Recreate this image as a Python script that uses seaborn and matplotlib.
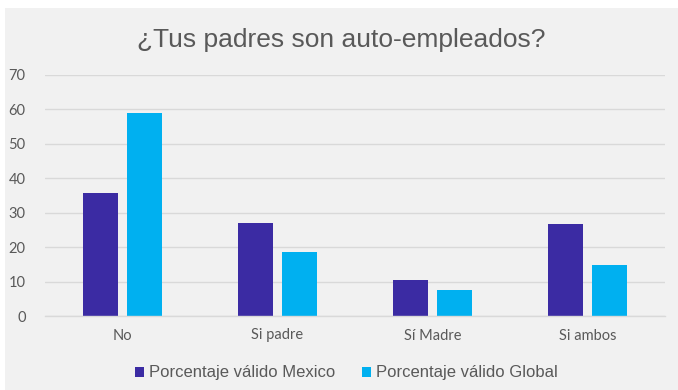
import matplotlib
matplotlib.use("Agg")
import matplotlib.pyplot as plt
from matplotlib.patches import Rectangle
import pandas as pd
import seaborn as sns

categories = ["No", "Si padre", "Sí Madre", "Si ambos"]
mexico = [35.8, 26.9, 10.5, 26.6]
global_ = [58.9, 18.7, 7.5, 14.8]
series_names = ["Porcentaje válido Mexico", "Porcentaje válido Global"]
colors = ["#3b2ba3", "#00b0f0"]
yticks = [0, 10, 20, 30, 40, 50, 60, 70]
title = "¿Tus padres son auto-empleados?"

df = pd.DataFrame({
    "categoria": categories * 2,
    "serie": [series_names[0]] * len(categories) + [series_names[1]] * len(categories),
    "valor": mexico + global_,
})

sns.set_theme(style="white")
plt.rcParams["font.family"] = ["Liberation Sans", "DejaVu Sans"]

W, H = 678, 390
fig = plt.figure(figsize=(W / 100, H / 100), dpi=100, facecolor="white")
fig.patches.append(Rectangle((5 / W, 0), 1 - 5 / W, 1 - 8 / H,
                             transform=fig.transFigure, facecolor="#f1f1f1",
                             edgecolor="none", zorder=-5))

ax = fig.add_axes([45 / W, 1 - 316 / H, (665 - 45) / W, (316 - 75) / H])
ax.set_facecolor("none")
ax.set_zorder(2)

sns.barplot(data=df, x="categoria", y="valor", hue="serie", order=categories,
            hue_order=series_names, palette=colors, width=0.57, gap=0.2,
            saturation=1, linewidth=0, ax=ax, legend=True)

ax.set_ylim(0, 70)
ax.set_yticks(yticks)
ax.set_xlim(-0.5, len(categories) - 0.5)
ax.yaxis.grid(True, color="#d9d9d9", linewidth=1.0)
ax.set_axisbelow(True)
for s in ["top", "right", "left"]:
    ax.spines[s].set_visible(False)
ax.spines["bottom"].set_color("#d9d9d9")
ax.spines["bottom"].set_linewidth(1.0)
ax.tick_params(axis="both", length=0, colors="#595959")
ax.tick_params(axis="y", pad=14)
ax.tick_params(axis="x", pad=9)
for lab in ax.get_yticklabels() + ax.get_xticklabels():
    lab.set_fontfamily(["Lato", "DejaVu Sans"])
    lab.set_fontsize(10.5)
ax.set_xlabel("")
ax.set_ylabel("")

fig.text(341 / W, 1 - 40 / H, title, ha="center", va="center",
         fontsize=19, color="#595959", zorder=3)

handles, labels = ax.get_legend_handles_labels()
ax.legend_.remove()
fig.legend(handles, labels, loc="center", bbox_to_anchor=(346 / W, 1 - 373 / H),
           ncol=2, frameon=False, fontsize=12, labelcolor="#595959",
           handlelength=0.55, handleheight=0.55, handletextpad=0.3,
           columnspacing=1.6)

fig.savefig("out.png", dpi=100, facecolor=fig.get_facecolor())
